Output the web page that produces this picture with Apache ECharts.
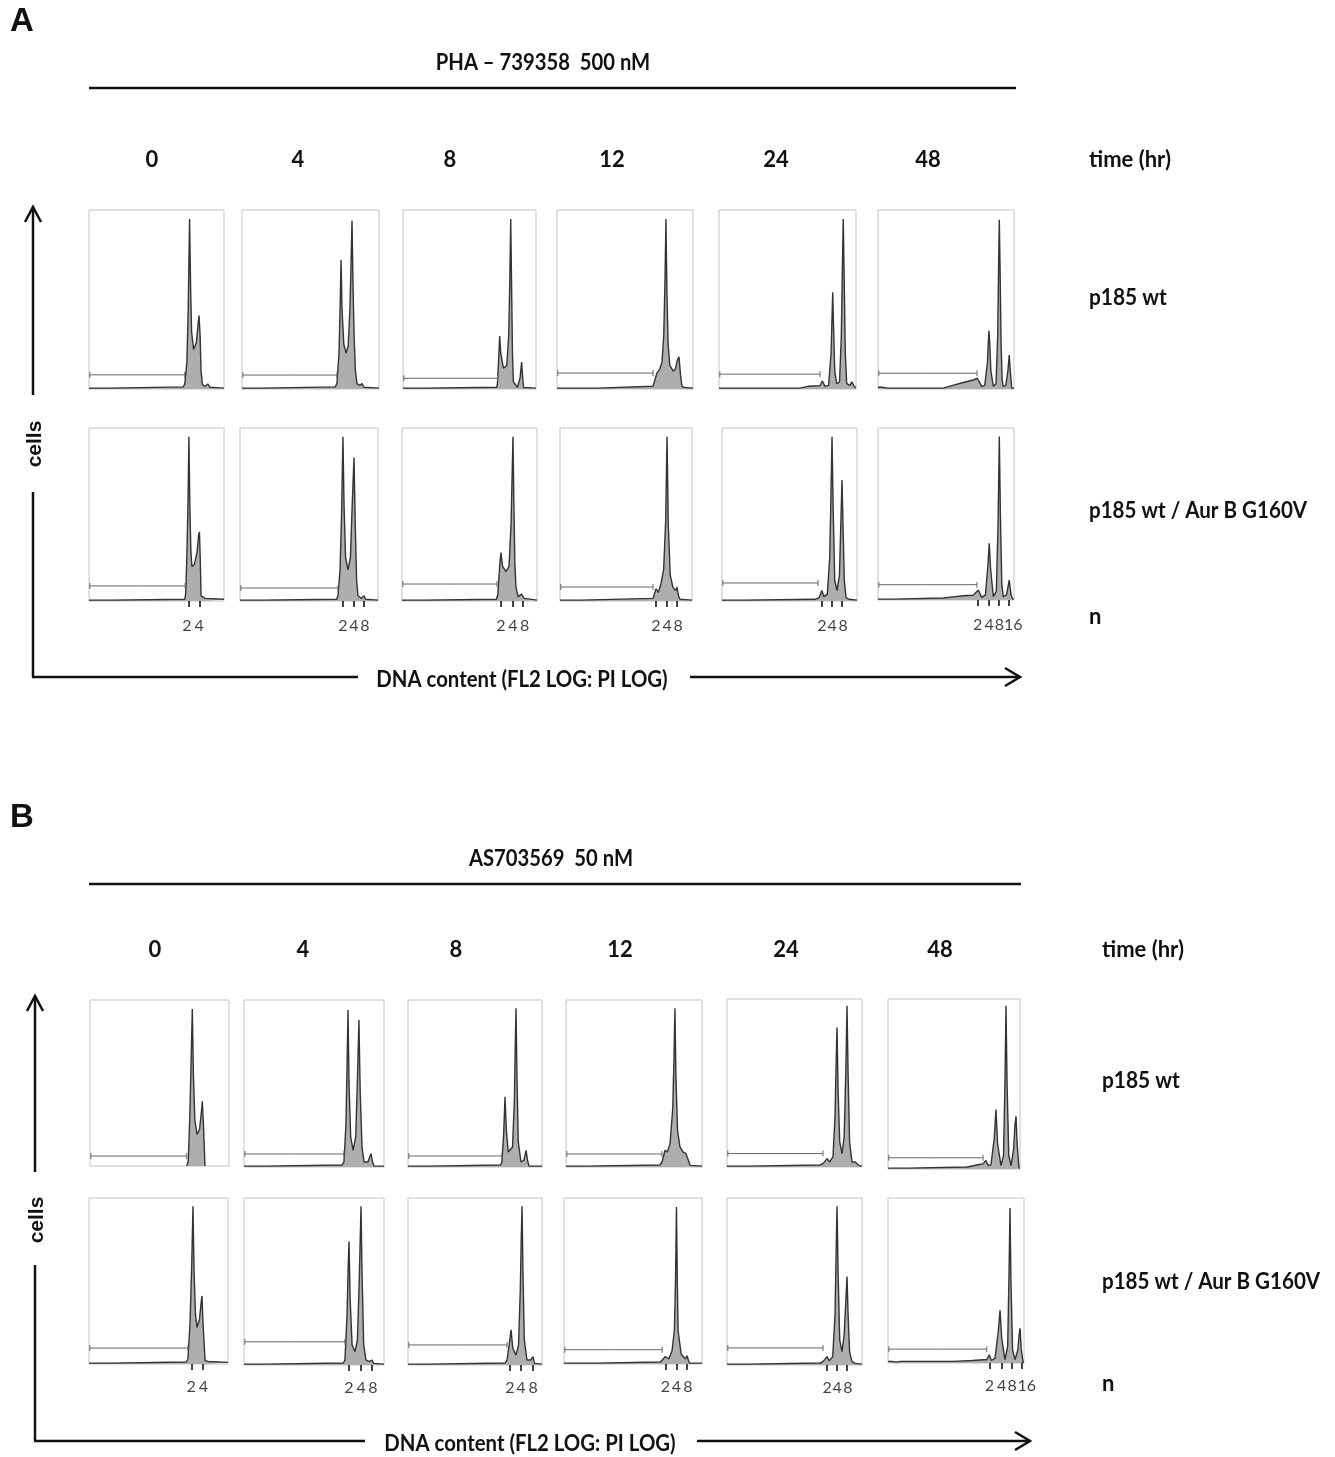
<!DOCTYPE html>
<html><head><meta charset="utf-8">
<script src="https://cdn.jsdelivr.net/npm/echarts@6/dist/echarts.min.js"></script>
<style>html,body{margin:0;padding:0;background:#fff}#c{width:1335px;height:1457px}</style>
</head><body><div id="c"></div>
<script>
// ---------- text ----------
const timeLabels = ['0', '4', '8', '12', '24', '48'];
const rowLabels = ['p185 wt', 'p185 wt / Aur B G160V'];
const ploidyLabels = [['2','4'], ['2','4','8'], ['2','4','8'], ['2','4','8'], ['2','4','8'], ['2','4','8','16']];
const titleA = 'PHA \u2013 739358  500 nM';
const titleB = 'AS703569  50 nM';
const xTitle = 'DNA content (FL2 LOG: PI LOG)';

// ---------- histograms: [DNA position (0-100 of panel), cells (% of panel height)] ----------
const A_wt = [
  [[0,0.5],[15,0.5],[16,1.2],[70,1.2],[71,3],[72.5,15],[73.5,45],[74.5,95],[75.3,55],[76,32],[77.5,22],[79.5,26],[80.8,36],[81.5,41],[82.3,30],[83,10],[84,2.5],[86,1.5],[88,2.8],[89.5,1],[100,0.5]],
  [[0,0.5],[14,0.5],[15,1.2],[68,1.2],[69.3,3],[70.8,20],[71.6,45],[72.3,72],[73,45],[74.3,25],[75.9,20],[77.5,24],[78.8,45],[79.6,70],[80.3,94],[81,60],[81.8,30],[82.8,10],[83.9,3],[86,2],[87.6,3],[89,1],[100,0.5]],
  [[0,0.5],[16.7,0.5],[17,1],[70.5,1],[71,3],[72,18],[72.7,29.6],[73.5,20],[75.5,11.7],[78,13],[79.5,30],[80.3,60],[81,95],[81.7,55],[82.3,20],[83,4],[86,1],[88,6],[89.2,15],[90,6],[90.7,0.8],[100,0.5]],
  [[0,0.5],[30,0.5],[31,1.2],[70.6,1.5],[72,5],[73.5,9],[75.5,11],[77.2,15],[78.5,30],[79.4,60],[80.1,95],[80.8,55],[81.7,25],[83,13],[85.5,10],[87,11],[88.5,16],[89.7,18],[90.8,8],[91.9,1.5],[94,0.8],[100,0.5]],
  [[0,0.5],[59,0.5],[65,1.5],[73.7,1.8],[75.4,4.5],[77.4,1.5],[80,2],[81.8,20],[82.5,40],[83,54],[83.6,35],[84.5,10],[85.9,3],[88,4],[89.3,30],[90,65],[90.7,95],[91.4,60],[92.2,20],[93.2,3],[95.5,2],[97,4],[97.6,5],[98.6,1.5],[100,0.5]],
  [[0,1],[3,1],[7,0.5],[48,0.5],[55,2],[62,3.5],[70,5],[73,6],[74.5,4],[76.2,1.5],[78.5,2],[80.5,15],[81,25],[81.6,32.5],[82.2,25],[83,10],[84.8,1.5],[86.8,3],[88,30],[88.7,70],[89.2,94.5],[89.8,65],[90.5,25],[91.3,5],[92.1,1.5],[94,2],[95.5,10],[96.5,19],[97.3,10],[98.3,0.5],[100,0.5]]
];
const A_aur = [
  [[0,0.5],[15.9,0.5],[16,1],[71,1],[71.7,5],[72.6,30],[73.4,60],[74,95],[74.7,55],[75.4,30],[76.2,20],[78,21],[80,28],[81.2,38],[81.8,40],[82.4,25],[83,3],[86,1.5],[100,1]],
  [[0,0.5],[15,0.5],[16,1],[70,1],[71,3],[72.5,18],[73.6,50],[74.6,95],[75.4,55],[76.5,25],[78.3,18],[80,25],[81.3,55],[82.6,83],[83.5,45],[84.5,12],[85.5,3],[88,1.5],[89.9,3],[91,1],[100,0.5]],
  [[0,0.5],[16,0.5],[17,1],[70,1],[71,4],[72.5,22],[73.3,28],[74.5,20],[77,17],[79.3,20],[80.8,45],[81.5,70],[82.2,95],[82.9,55],[83.6,22],[84.4,8],[86,2.5],[88.5,4],[89.6,5],[90.5,1.5],[100,0.5]],
  [[0,0.5],[15,0.5],[16,1],[70.5,1.5],[72.7,7],[74.5,5],[76.5,10],[78.5,18],[80,45],[81.1,95],[82,45],[83.5,15],[85.5,8],[87.5,6],[88.6,8],[89.8,3],[90.9,1],[100,0.5]],
  [[0,0.5],[15,0.5],[16,1],[69,1],[72,2],[74,6],[75.5,2.5],[78,4],[79.8,25],[80.8,65],[81.5,95],[82.3,55],[83.5,12],[85.2,6],[87,15],[88.2,50],[88.9,70],[89.6,45],[90.6,12],[91.9,2],[94,1],[100,0.5]],
  [[0,0.5],[11,0.5],[12,1.2],[48,1.2],[55,1.8],[63,2.5],[70,2.8],[73.8,5.8],[76.2,1.5],[79,3],[80.8,20],[81.8,33],[82.8,18],[84.8,2],[87,5],[88.3,45],[89.2,95],[90,50],[91,10],[92.1,2],[94.5,3],[96.5,11.6],[97.8,3],[99,0.5],[100,0.5]]
];
const B_wt = [
  [[69.6,0],[70.7,3],[71.8,30],[72.8,65],[73.6,94.5],[74.4,55],[75.4,28],[77,19],[78.8,22],[80.2,33],[80.8,39],[81.6,25],[82.7,0]],
  [[0,0.5],[15,0.5],[16,1.2],[70,1.2],[71.4,3],[72.8,25],[73.6,60],[74.3,94],[75,50],[76.2,18],[77.9,10],[79.8,18],[81.1,55],[82.1,88],[83,45],[84.3,12],[85.7,3],[88.5,3],[90.7,8],[91.8,3],[92.9,0.5],[100,0.5]],
  [[0,0.5],[15,0.5],[16,1.2],[69,1.2],[70.1,3],[71.4,20],[72.4,42],[73.4,22],[74.8,9],[76.1,8],[78,12],[79.4,40],[80,70],[80.6,95],[81.3,55],[82.3,15],[84.3,3],[86.5,4],[88.1,10],[89.2,4],[90.3,0.5],[100,0.5]],
  [[0,0.5],[15,0.5],[16,1],[69,1.2],[70.6,3],[72.8,10],[74.5,9],[76.5,14],[78.5,35],[79.4,65],[80.1,95],[80.8,55],[82,22],[83.8,12],[86,9],[88.2,8],[90,4],[91.2,1],[100,0.5]],
  [[0,0.5],[15,0.5],[16,1.2],[69,1.2],[71.1,2],[74.1,5],[76,3],[78.5,6],[80,30],[80.8,60],[81.5,83],[82.3,45],[83.5,15],[85.2,8],[86.8,18],[88.1,60],[88.9,96],[89.7,55],[90.8,15],[92.6,3],[95,3],[96.3,4],[97.5,1],[100,0.5]],
  [[0,0.5],[15,0.5],[16,1],[60,1.2],[68,2.5],[72,3],[74.2,5],[76,2],[78,2.5],[80.5,18],[81.8,35],[83,15],[85.6,2],[87.5,8],[88.6,50],[89.4,96],[90.2,50],[91.5,8],[93.2,2],[95.2,12],[96.2,26],[97,31],[97.8,15],[99.2,0.5],[100,0.5]]
];
const B_aur = [
  [[0,0.5],[15,0.5],[16,1.2],[70,1.2],[71.2,3],[72.7,25],[73.9,60],[74.8,95],[75.6,55],[76.6,30],[77.7,22],[79.5,27],[80.8,38],[81.3,41],[82,25],[83.5,2],[86,1.5],[100,1]],
  [[0,0.5],[15,0.5],[16,1.2],[71,1.2],[72.1,3],[73.6,30],[74.3,55],[75,74],[75.8,40],[77.2,12],[79.3,8],[81,15],[82.3,50],[83,75],[83.6,95],[84.3,55],[85.5,12],[87.1,3],[89.5,2],[91.4,3],[92.5,1],[100,0.5]],
  [[0,0.5],[15,0.5],[16,1.2],[72.5,1.2],[73.9,3],[75.5,12],[76.9,21],[78.2,10],[80.6,6],[82.5,12],[83.8,45],[84.5,75],[85.1,95],[85.8,55],[86.8,15],[88.8,3],[91.5,3],[93.3,5],[94.5,1],[100,0.5]],
  [[0,0.5],[22.9,0.5],[23.2,1.2],[69.9,1.2],[71.1,2],[73.5,4.5],[75.9,3],[78.3,8],[80,20.5],[80.8,50],[81.5,94.5],[82.1,50],[82.7,20],[84.9,6],[88,3],[89.2,5],[90.2,2],[91,0.5],[100,0.5]],
  [[0,0.5],[15,0.5],[16,1.2],[69,1.2],[71.1,2],[74.1,5],[75.8,2.5],[78.3,5],[80,30],[80.8,65],[81.5,95],[82.3,55],[83.5,15],[85.2,8],[86.8,18],[88.1,40],[88.9,53],[89.7,30],[90.8,8],[92.6,2],[95,1],[100,0.5]],
  [[0,1],[3,1],[6,0.5],[9,1],[48,1],[62,1.5],[70,2],[72.6,2],[74.5,5],[76,1.5],[78.7,3],[81.2,20],[82.4,32],[83.6,15],[86,2],[88,10],[89,55],[89.7,94],[90.4,50],[91.6,8],[93.4,2],[95.5,8],[96.4,17],[97.1,21],[98,8],[99.3,0.5],[100,0.5]]
];

// ---------- gates: [level (% height), right end (DNA position)] and their printed values ----------
const A_wt_gate  = [[7.9,70.9],[7.8,69.3],[6,71],[8.9,70.6],[8.3,73.7],[8.8,72.8]];
const A_aur_gate = [[8.7,71.2],[7.5,71],[9.8,70.4],[8.1,70.5],[10.4,71.1],[8.9,72.8]];
const B_wt_gate  = [[6,69.6],[7.8,71.4],[6.6,70.1],[7.8,70.6],[8,71.1],[6.6,72]];
const B_aur_gate = [[9.6,71.2],[13.9,72.1],[12,73.9],[8.6,71.1],[10.2,71.1],[8.4,72.6]];
const A_wt_gateText  = ['0.44','0.63','0.72','1.70','5.88','16.5'];
const A_aur_gateText = ['0.25','0.40','0.6','1.44','3.39','13.4'];
const B_wt_gateText  = ['0.44','0.62','0.78','0.70','1.35','4.64'];
const B_aur_gateText = ['0.34','0.43','0.49','0.66','1.15','4.86'];

// ---------- ploidy tick positions and label positions (DNA position) ----------
const A_ticks = [[74,81.8],[74.6,82.6,89.9],[73.3,82.2,89.6],[72.7,81.1,88.6],[74,81.5,88.9],[73.5,81.6,89,96.3]];
const B_ticks = [[74.1,82],[75,83.6,91.4],[76.1,84.3,93.3],[73.5,81.5,89.2],[74.1,81.5,88.9],[74.5,83.6,91,98.3]];
const A_labelPos = [[72.5,81.5],[74.6,82.6,90.5],[73.3,82.2,90.8],[72.7,81.1,89.5],[74,81.5,89.8],[73.3,81.8,89.3,99.5]];
const B_labelPos = [[73.5,82.3],[75,83.6,92],[76.1,84.3,93.3],[73.5,81.5,89.8],[74.1,81.5,89.5],[74.5,83.6,91.2,102]];

// ---------- layout ----------
const rectsA1 = [[89,210,135,179],[242,210,137,179],[403,210,133,179],[557,210,136,179],[719,210,137,179],[878,210,136,179]];
const rectsA2 = [[89,428,135,173],[240,428,138,173],[402,428,135,173],[560,428,132,173],[722,428,135,173],[878,428,136,172]];
const rectsB1 = [[90,1000,139,166],[244,1000,140,167],[408,1000,134,167],[566,1000,136,167],[727,999,135,168],[888,999,132,170]];
const rectsB2 = [[89,1198,139,166],[244,1198,140,167],[408,1198,134,167],[564,1198,138,166],[727,1198,135,167],[888,1198,136,165]];

const CAL = 'Lato, Carlito, "Open Sans", sans-serif';
const grids = [], xAxes = [], yAxes = [], series = [];

function addPanel(rect, hist, gate, gateText, ticks, labelPos, tickLabels, labelDist) {
  const i = grids.length;
  grids.push({left: rect[0], top: rect[1], width: rect[2], height: rect[3], show: true,
    borderColor: '#c4c4c4', borderWidth: 1, backgroundColor: 'rgba(0,0,0,0)'});
  const hasTicks = !!ticks;
  xAxes.push({
    gridIndex: i, type: 'value', min: 0, max: 100, offset: hasTicks ? -4 : 0,
    splitLine: {show: false}, axisLine: {show: false}, axisLabel: {show: false},
    axisTick: hasTicks ? {show: true, customValues: ticks, length: 10, lineStyle: {color: '#222', width: 1.7}} : {show: false}
  });
  yAxes.push({gridIndex: i, type: 'value', min: 0, max: 100, show: false, splitLine: {show: false}});
  series.push({
    type: 'line', xAxisIndex: i, yAxisIndex: i, data: hist, showSymbol: false, smooth: false, silent: true,
    lineStyle: {color: '#333333', width: 1.4}, areaStyle: {color: '#aeaeae', opacity: 1}, z: 2
  });
  series.push({
    type: 'line', xAxisIndex: i, yAxisIndex: i, silent: true, z: 3,
    data: [
      {value: [0.6, gate[0]]},
      {value: [gate[1] / 2, gate[0]], symbol: 'none',
        label: {show: true, position: 'top', distance: 2, formatter: gateText, fontSize: 4, color: '#666', fontFamily: 'Arial'}},
      {value: [gate[1], gate[0]]}
    ],
    showSymbol: true, symbol: 'rect', symbolSize: [1, 6],
    itemStyle: {color: '#666'}, lineStyle: {color: '#666', width: 1}
  });
  if (hasTicks) {
    series.push({
      type: 'scatter', xAxisIndex: i, yAxisIndex: i, silent: true, clip: false, z: 4,
      symbol: 'circle', symbolSize: 0.1, itemStyle: {color: 'rgba(0,0,0,0)'},
      data: labelPos.map(function (x, k) { return {value: [x, 0], name: tickLabels[k]}; }),
      label: {show: true, position: 'bottom', distance: labelDist, formatter: '{b}',
        fontSize: 16, fontFamily: CAL, color: '#111'},
      labelLayout: {hideOverlap: false}
    });
  }
}

for (let c = 0; c < 6; c++) addPanel(rectsA1[c], A_wt[c], A_wt_gate[c], A_wt_gateText[c], null, null, null, 0);
for (let c = 0; c < 6; c++) addPanel(rectsA2[c], A_aur[c], A_aur_gate[c], A_aur_gateText[c], A_ticks[c], A_labelPos[c], ploidyLabels[c], 17);
for (let c = 0; c < 6; c++) addPanel(rectsB1[c], B_wt[c], B_wt_gate[c], B_wt_gateText[c], null, null, null, 0);
for (let c = 0; c < 6; c++) addPanel(rectsB2[c], B_aur[c], B_aur_gate[c], B_aur_gateText[c], B_ticks[c], B_labelPos[c], ploidyLabels[c], 15);

// ---------- annotations ----------
const timeXA = [152, 298, 450, 612, 776, 928];
const timeXB = [155, 303, 456, 620, 786, 940];
const G = [];
function txt(t, x, y, size, align, sx) {
  G.push({type: 'text', x: x, y: y, scaleX: sx || 1, silent: true,
    style: {text: t, font: 'bold ' + size + 'px ' + CAL, fill: '#111', align: align || 'center', verticalAlign: 'middle'}});
}
function ln(x1, y1, x2, y2, w) {
  G.push({type: 'line', silent: true, shape: {x1: x1, y1: y1, x2: x2, y2: y2}, style: {stroke: '#111', lineWidth: w || 2.5}});
}
function pl(pts) {
  G.push({type: 'polyline', silent: true, shape: {points: pts}, style: {stroke: '#111', lineWidth: 2.5, fill: null}});
}
function section(dy, label, title, titleX, lineEnd, timeX, timeY, rowX, rowY, axX, axTop, cellsY, cellsGapTop, cellsGapBot, axBottom, xTitleX, xGap1, xGap2, arrowEnd) {
  G.push({type: 'text', x: 10, y: dy + 22, silent: true, style: {text: label, font: 'bold 33px "Liberation Sans", Arial, sans-serif', fill: '#111', align: 'left', verticalAlign: 'middle'}});
  txt(title, titleX, dy + 63, 22, 'center', 0.92);
  ln(89, dy + 88, lineEnd, dy + 88, 2.5);
  for (let c = 0; c < 6; c++) txt(timeLabels[c], timeX[c], timeY, 22, 'center');
  txt('time (hr)', rowX, timeY, 22, 'left');
  txt(rowLabels[0], rowX, rowY[0], 22, 'left', 0.95);
  txt(rowLabels[1], rowX, rowY[1], 22, 'left', 0.935);
  txt('n', rowX, rowY[2], 22, 'left');
  // y arrow
  ln(axX, axTop, axX, cellsGapTop, 2.5);
  ln(axX, cellsGapBot, axX, axBottom, 2.5);
  pl([[axX - 8, axTop + 15], [axX, axTop], [axX + 8, axTop + 15]]);
  G.push({type: 'text', x: axX + 2, y: cellsY, rotation: Math.PI / 2, silent: true,
    style: {text: 'cells', font: 'bold 21px "Liberation Sans", Arial, sans-serif', fill: '#111', align: 'center', verticalAlign: 'middle'}});
  // x arrow
  ln(axX - 1, axBottom, xGap1, axBottom, 2.5);
  ln(xGap2, axBottom, arrowEnd, axBottom, 2.5);
  pl([[arrowEnd - 15, axBottom - 9], [arrowEnd, axBottom], [arrowEnd - 15, axBottom + 9]]);
  txt(xTitle, xTitleX, axBottom + 3, 22, 'center', 0.925);
}
section(0, 'A', titleA, 543, 1016, timeXA, 160, 1089, [298, 511, 617], 33, 207, 444, 395, 492, 677, 522, 358, 690, 1020);
section(796, 'B', titleB, 551, 1021, timeXB, 950, 1102, [1081, 1282, 1384], 35, 996, 1220, 1172, 1265, 1441, 530, 365, 697, 1030);

const chart = echarts.init(document.getElementById('c'), null, {renderer: 'canvas', width: 1335, height: 1457});
chart.setOption({
  animation: false,
  backgroundColor: '#ffffff',
  grid: grids, xAxis: xAxes, yAxis: yAxes, series: series,
  graphic: {elements: G}
});
</script>
</body></html>
